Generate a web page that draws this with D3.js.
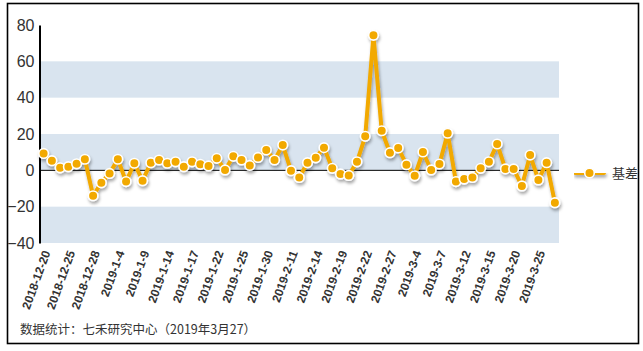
<!DOCTYPE html>
<html>
<head>
<meta charset="utf-8">
<script src="https://cdn.jsdelivr.net/npm/d3@7"></script>
<style>
  body { margin: 0; background: #fff; }
  svg { font-family: "Liberation Sans", Arial, sans-serif; }
</style>
</head>
<body>
<svg id="chart" width="643" height="351"></svg>
<script>
// trading days, 2018-12-20 .. 2019-3-27
var dates = [
  "2018-12-20","2018-12-21","2018-12-24","2018-12-25","2018-12-26","2018-12-27","2018-12-28",
  "2019-1-2","2019-1-3","2019-1-4","2019-1-7","2019-1-8","2019-1-9","2019-1-10","2019-1-11",
  "2019-1-14","2019-1-15","2019-1-16","2019-1-17","2019-1-18","2019-1-21","2019-1-22","2019-1-23",
  "2019-1-24","2019-1-25","2019-1-28","2019-1-29","2019-1-30","2019-1-31","2019-2-1",
  "2019-2-11","2019-2-12","2019-2-13","2019-2-14","2019-2-15","2019-2-18","2019-2-19","2019-2-20",
  "2019-2-21","2019-2-22","2019-2-25","2019-2-26","2019-2-27","2019-2-28","2019-3-1",
  "2019-3-4","2019-3-5","2019-3-6","2019-3-7","2019-3-8","2019-3-11","2019-3-12","2019-3-13",
  "2019-3-14","2019-3-15","2019-3-18","2019-3-19","2019-3-20","2019-3-21","2019-3-22",
  "2019-3-25","2019-3-26","2019-3-27"
];
// 基差
var basis = [
  9.3, 5.3, 1.4, 2.0, 3.6, 6.1, -14.0,
  -6.8, -1.7, 6.1, -6.2, 3.9, -5.7, 4.2, 5.7,
  3.9, 4.7, 2.0, 4.7, 3.3, 2.4, 6.6, 0.2,
  7.7, 5.7, 2.7, 7.1, 11.2, 5.7, 13.9,
  -0.2, -3.9, 4.2, 6.9, 12.5, 1.1, -2.0, -2.8,
  4.7, 18.7, 74.3, 21.8, 9.7, 12.3, 3.1,
  -3.0, 10.1, 0.2, 3.5, 20.4, -6.2, -4.8, -3.9,
  1.1, 4.7, 14.5, 0.8, 0.8, -8.6, 8.4,
  -5.3, 4.2, -17.8
];
var yTicks = [-40, -20, 0, 20, 40, 60, 80];
var seriesName = "基差";
var footnote = "数据统计：七禾研究中心（2019年3月27）";

var orange = "#f2a900";
var plot = { left: 39.5, right: 559, top: 25, bottom: 243 };

var svg = d3.select("#chart");

// drop shadow for the line (user space so flat lines keep it)
var defs = svg.append("defs");
var f = defs.append("filter").attr("id", "shadow")
  .attr("filterUnits", "userSpaceOnUse")
  .attr("x", 0).attr("y", 0).attr("width", 643).attr("height", 351);
f.append("feDropShadow").attr("dx", 1).attr("dy", 2.5).attr("stdDeviation", 1.5)
  .attr("flood-color", "#000").attr("flood-opacity", 0.35);

// outer frame
svg.append("rect")
  .attr("x", 7.5).attr("y", 3.5).attr("width", 631).attr("height", 340)
  .attr("fill", "none").attr("stroke", "#000").attr("stroke-width", 1.6);

var x = d3.scaleBand().domain(dates).range([plot.left, plot.right]);
var y = d3.scaleLinear().domain([-40, 80]).range([plot.bottom, plot.top]);

// alternating bands
var bandPairs = d3.pairs(yTicks).filter(function(d, i) { return i % 2 === 0; });
svg.selectAll(".band")
  .data(bandPairs)
  .enter().append("rect")
  .attr("class", "band")
  .attr("x", plot.left)
  .attr("width", plot.right - plot.left)
  .attr("y", function(d) { return y(d[1]); })
  .attr("height", function(d) { return y(d[0]) - y(d[1]); })
  .attr("fill", "#d9e4ef");

// zero line
svg.append("line")
  .attr("x1", plot.left).attr("x2", plot.right)
  .attr("y1", y(0)).attr("y2", y(0))
  .attr("stroke", "#000").attr("stroke-width", 1);

// y axis
var yAxis = svg.append("g")
  .attr("transform", "translate(" + plot.left + ",0)")
  .call(d3.axisLeft(y).tickValues(yTicks).tickSize(0).tickPadding(5));
yAxis.select(".domain").attr("stroke", "#000").attr("stroke-width", 2);
yAxis.selectAll("text")
  .attr("font-size", 16)
  .attr("fill", "#333")
  .style("font-family", "'Liberation Sans', Arial, sans-serif");

// x axis labels
var xAxis = svg.append("g")
  .attr("transform", "translate(0," + plot.bottom + ")")
  .call(d3.axisBottom(x).tickValues(dates.filter(function(d, i) { return i % 3 === 0; })).tickSize(0));
xAxis.select(".domain").remove();
xAxis.selectAll("text")
  .attr("y", 0).attr("dy", "0.35em")
  .attr("transform", "translate(3,8) rotate(-70)")
  .attr("text-anchor", "end")
  .attr("font-size", 12)
  .attr("font-weight", "bold")
  .attr("fill", "#333")
  .style("font-family", "'Liberation Sans', Arial, sans-serif");

// series
var line = d3.line()
  .x(function(d, i) { return x(dates[i]) + x.bandwidth() / 2; })
  .y(function(d) { return y(d); });

var series = svg.append("g").attr("filter", "url(#shadow)");
series.append("path")
  .datum(basis)
  .attr("d", line)
  .attr("fill", "none")
  .attr("stroke", orange)
  .attr("stroke-width", 4)
  .attr("stroke-linejoin", "round");

series.selectAll("circle")
  .data(basis)
  .enter().append("circle")
  .attr("cx", function(d, i) { return x(dates[i]) + x.bandwidth() / 2; })
  .attr("cy", function(d) { return y(d); })
  .attr("r", 4.8)
  .attr("fill", orange)
  .attr("stroke", "#fff")
  .attr("stroke-width", 1.6);

// legend
var lg = svg.append("g").attr("transform", "translate(574,173)");
lg.append("line")
  .attr("x1", 1).attr("x2", 30).attr("y1", 0).attr("y2", 0)
  .attr("stroke", orange).attr("stroke-width", 4)
  .attr("stroke-linecap", "round")
  .attr("filter", "url(#shadow)");
lg.append("circle")
  .attr("cx", 15.5).attr("cy", 0).attr("r", 4.8)
  .attr("fill", orange).attr("stroke", "#fff").attr("stroke-width", 1.6);
lg.append("text")
  .attr("x", 38).attr("y", 0).attr("dy", "0.35em")
  .attr("font-size", 13)
  .attr("fill", "#333")
  .style("font-family", "'Noto Sans CJK SC', sans-serif")
  .text(seriesName);

// footnote
svg.append("text")
  .attr("x", 20).attr("y", 330).attr("dy", "0.35em")
  .attr("font-size", 12.5)
  .attr("fill", "#333")
  .style("font-family", "'Noto Sans CJK SC', sans-serif")
  .text(footnote);
</script>
</body>
</html>
